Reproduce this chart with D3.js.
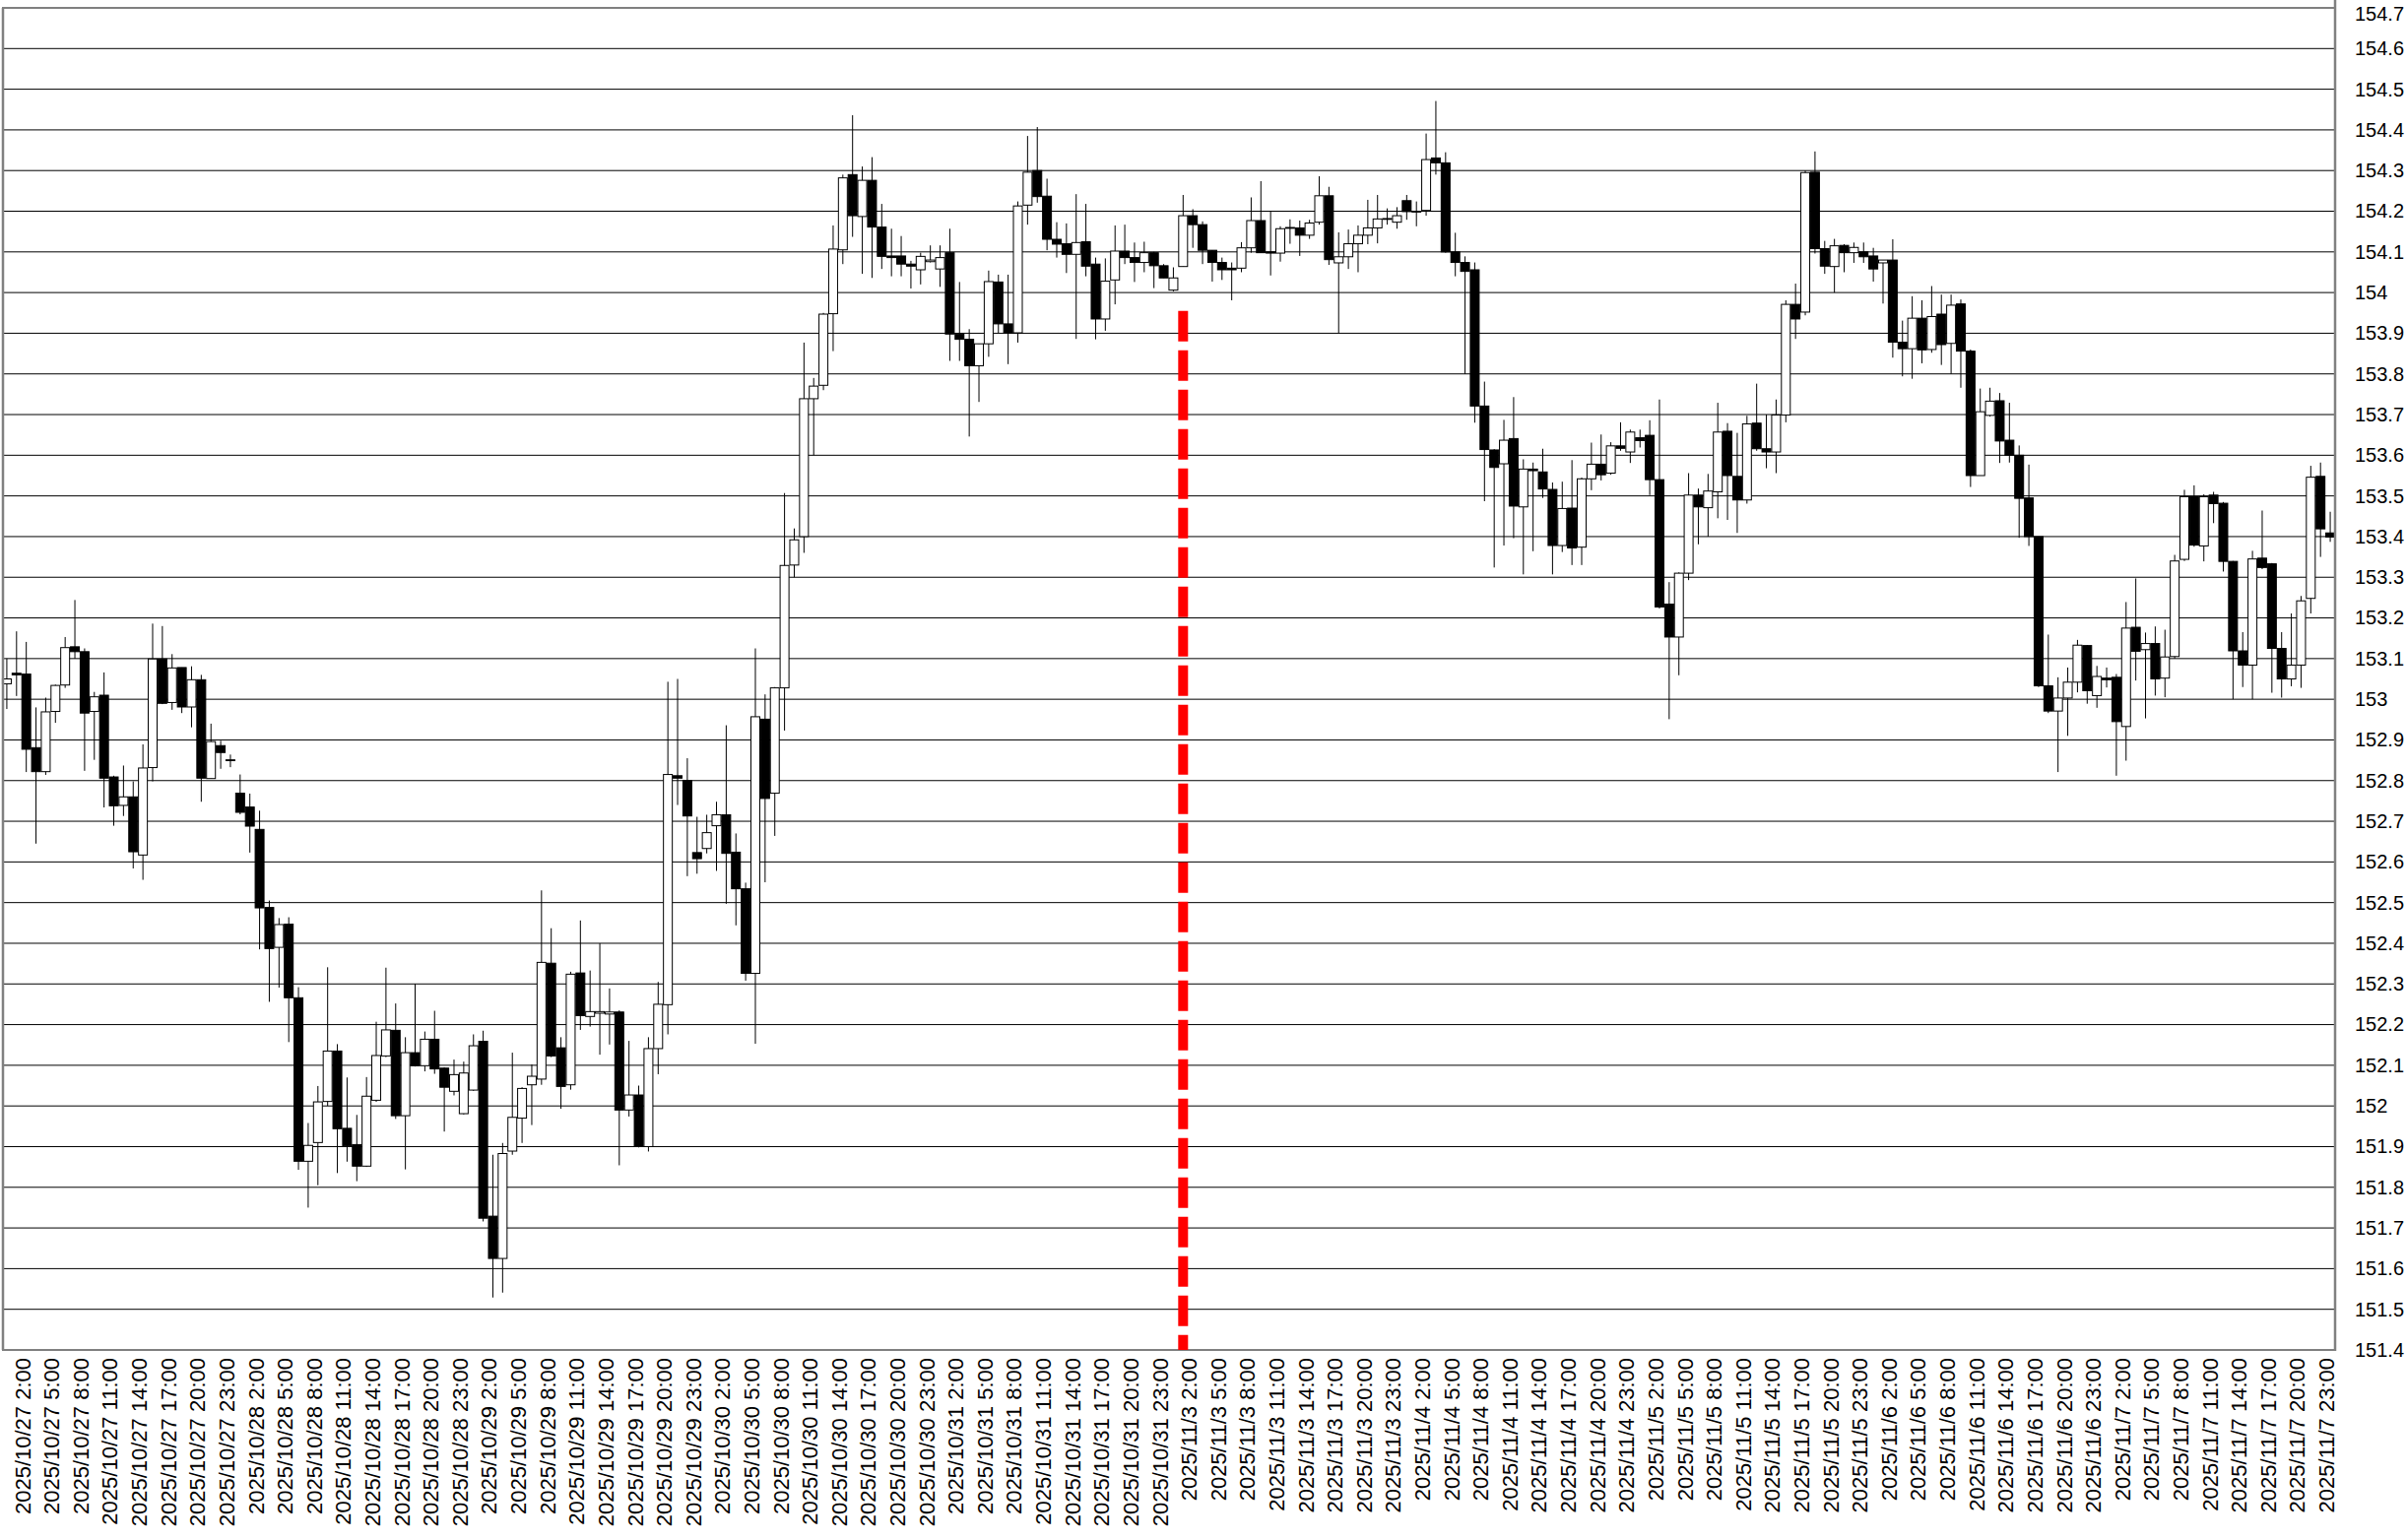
<!DOCTYPE html>
<html><head><meta charset="utf-8">
<script src="https://cdn.jsdelivr.net/npm/d3@7"></script>
<style>body{margin:0;background:#fff}</style>
</head><body>
<svg id="c" width="2443" height="1564"></svg>
<script>
const tradingDays = ["2025/10/27","2025/10/28","2025/10/29","2025/10/30","2025/10/31","2025/11/3","2025/11/4","2025/11/5","2025/11/6","2025/11/7"];
const hoursOfDay = [0,1,2,3,4,5,6,7,8,9,10,11,12,13,14,15,16,17,18,19,20,21,22,23];

const opens = [
153.038,153.064,153.062,152.881,152.822,152.970,153.035,153.129,153.117,152.970,
153.010,152.809,152.739,152.760,152.617,152.832,153.099,152.992,153.078,152.981,
153.048,152.805,152.886,152.851,152.769,152.735,152.680,152.488,152.390,152.447,
152.266,151.864,151.910,152.011,152.135,151.945,151.905,151.852,152.014,152.123,
152.186,151.976,152.131,152.099,152.164,152.093,152.036,151.981,152.039,152.159,
151.729,151.625,151.889,151.970,152.052,152.066,152.351,152.143,152.052,152.327,
152.220,152.228,152.226,152.231,151.990,152.027,151.900,152.141,152.249,152.812,
152.800,152.623,152.633,152.689,152.716,152.624,152.534,152.326,152.951,152.769,
153.028,153.330,153.400,153.739,153.772,153.948,154.105,154.290,154.187,154.276,
154.161,154.090,154.090,154.070,154.056,154.076,154.058,154.098,153.898,153.885,
153.820,153.874,154.026,153.923,153.901,154.215,154.300,154.237,154.131,154.120,
154.094,154.125,154.070,153.935,154.031,154.102,154.086,154.074,154.098,154.066,
154.006,154.064,154.189,154.167,154.104,154.074,154.060,154.060,154.110,154.177,
154.100,154.097,154.160,154.159,154.141,154.173,154.238,154.073,154.088,154.120,
154.141,154.159,154.180,154.173,154.226,154.200,154.202,154.331,154.319,154.100,
154.074,154.056,153.721,153.613,153.579,153.641,153.473,153.566,153.559,153.516,
153.378,153.470,153.374,153.542,153.578,153.556,153.623,153.608,153.643,153.649,
153.540,153.234,153.153,153.310,153.502,153.471,153.510,153.659,153.548,153.490,
153.679,153.616,153.608,153.699,153.971,153.952,154.296,154.108,154.064,154.116,
154.098,154.100,154.090,154.073,154.080,153.878,153.862,153.937,153.860,153.947,
153.875,153.972,153.856,153.550,153.698,153.734,153.637,153.600,153.495,153.400,
153.033,152.971,153.003,153.042,153.132,153.009,153.052,153.054,152.933,153.177,
153.122,153.137,153.052,153.105,153.344,153.498,153.377,153.502,153.482,153.339,
153.119,153.084,153.347,153.333,153.125,153.050,153.084,153.248,153.548,153.409];

const highs = [
153.100,153.167,153.141,152.980,153.004,153.036,153.153,153.244,153.125,153.018,
153.066,152.812,152.837,152.798,152.889,153.186,153.180,153.111,153.078,153.081,
153.060,152.940,152.898,152.864,152.815,152.768,152.726,152.505,152.462,152.464,
152.292,151.958,152.049,152.341,152.152,152.070,151.978,152.071,152.207,152.340,
152.252,152.169,152.300,152.183,152.234,152.095,152.114,152.109,152.176,152.185,
151.880,151.909,152.131,152.046,152.102,152.530,152.437,152.169,152.330,152.456,
152.333,152.400,152.289,152.235,152.160,152.050,152.169,152.305,153.043,153.050,
152.855,152.711,152.716,152.748,152.936,152.670,152.549,153.125,153.012,153.030,
153.507,153.420,153.877,153.790,153.950,154.165,154.290,154.436,154.310,154.333,
154.218,154.157,154.139,154.078,154.098,154.116,154.116,154.157,154.026,153.910,
153.874,154.054,154.044,154.044,154.224,154.385,154.407,154.280,154.173,154.170,
154.242,154.218,154.086,154.084,154.165,154.167,154.123,154.125,154.100,154.070,
154.062,154.240,154.205,154.175,154.104,154.086,154.074,154.124,154.234,154.274,
154.200,154.163,154.180,154.177,154.179,154.286,154.260,154.148,154.155,154.165,
154.228,154.240,154.207,154.210,154.240,154.224,154.391,154.471,154.345,154.147,
154.089,154.074,153.781,153.615,153.687,153.743,153.590,153.582,153.616,153.533,
153.535,153.588,153.545,153.631,153.651,153.632,153.681,153.663,153.663,153.686,
153.737,153.288,153.312,153.556,153.518,153.554,153.729,153.679,153.655,153.697,
153.776,153.700,153.737,153.981,154.022,154.300,154.347,154.127,154.132,154.119,
154.123,154.123,154.110,154.080,154.131,153.931,153.991,153.981,154.016,153.995,
153.995,153.983,153.860,153.764,153.766,153.753,153.729,153.624,153.577,153.400,
153.159,153.054,153.078,153.146,153.133,153.082,153.078,153.062,153.239,153.297,
153.164,153.179,153.171,153.355,153.515,153.526,153.504,153.510,153.485,153.340,
153.165,153.365,153.464,153.335,153.165,153.211,153.254,153.574,153.582,153.461];

const lows = [
152.976,153.008,152.821,152.645,152.814,152.942,153.028,153.100,152.824,152.851,
152.734,152.689,152.713,152.584,152.556,152.798,152.988,152.974,152.966,152.931,
152.748,152.805,152.829,152.833,152.717,152.623,152.385,152.256,152.291,152.157,
151.843,151.750,151.805,152.000,151.835,151.863,151.815,151.850,152.010,152.120,
151.968,151.844,152.097,152.085,152.079,151.937,152.026,151.979,152.037,151.716,
151.529,151.541,151.880,151.909,151.953,152.052,152.120,151.993,152.040,152.187,
152.195,152.126,152.151,151.854,151.974,151.898,151.888,152.078,152.176,152.740,
152.565,152.571,152.621,152.578,152.497,152.444,152.308,152.153,152.550,152.664,
152.923,153.300,153.360,153.600,153.760,153.856,154.070,154.137,154.046,154.036,
154.058,154.040,154.040,154.010,154.020,154.074,154.014,153.832,153.832,153.646,
153.731,153.842,153.901,153.824,153.877,154.167,154.221,154.104,154.086,154.048,
153.886,154.040,153.885,153.906,153.971,154.070,154.026,154.050,154.011,154.036,
154.003,154.064,154.110,154.070,154.027,154.031,153.981,154.050,154.098,154.098,
154.042,154.076,154.120,154.090,154.132,154.167,154.068,153.900,154.058,154.050,
154.119,154.121,154.167,154.157,154.179,154.163,154.189,154.290,154.098,154.040,
153.800,153.680,153.487,153.324,153.378,153.396,153.307,153.364,153.495,153.307,
153.362,153.330,153.330,153.514,153.538,153.552,153.611,153.581,153.619,153.502,
153.223,152.951,153.059,153.293,153.381,153.400,153.445,153.441,153.409,153.481,
153.611,153.568,153.556,153.681,153.886,153.944,154.096,154.046,154.000,154.050,
154.073,154.073,154.027,153.973,153.840,153.794,153.788,153.826,153.852,153.822,
153.800,153.766,153.522,153.550,153.695,153.581,153.582,153.397,153.377,153.030,
152.966,152.821,152.910,153.017,152.989,152.979,153.029,152.812,152.849,153.046,
152.953,153.009,153.005,153.100,153.340,153.375,153.339,153.433,153.314,153.000,
153.030,153.000,153.320,153.016,153.004,153.032,153.028,153.211,153.350,153.387];

const closes = [
153.050,153.060,152.877,152.822,152.969,153.034,153.127,153.117,152.966,153.006,
152.806,152.738,152.760,152.625,152.831,153.099,152.990,153.077,152.981,153.048,
152.806,152.896,152.869,152.849,152.722,152.688,152.487,152.387,152.446,152.266,
151.864,151.903,152.010,152.135,151.944,151.902,151.852,152.024,152.124,152.187,
151.976,152.131,152.099,152.164,152.091,152.046,152.077,152.081,152.148,151.724,
151.625,151.883,151.972,152.043,152.073,152.353,152.123,152.048,152.324,152.222,
152.232,152.232,152.231,151.990,152.027,151.900,152.141,152.250,152.815,152.806,
152.713,152.608,152.672,152.716,152.621,152.534,152.326,152.957,152.756,153.028,
153.329,153.392,153.739,153.770,153.947,154.107,154.282,154.189,154.276,154.161,
154.089,154.086,154.070,154.065,154.089,154.080,154.086,153.898,153.885,153.820,
153.874,154.027,153.923,153.901,154.213,154.296,154.236,154.131,154.119,154.094,
154.123,154.065,153.935,154.028,154.102,154.086,154.074,154.098,154.066,154.036,
154.036,154.189,154.167,154.104,154.074,154.056,154.056,154.110,154.177,154.098,
154.097,154.157,154.158,154.141,154.171,154.238,154.081,154.088,154.120,154.141,
154.159,154.181,154.182,154.189,154.199,154.198,154.327,154.319,154.100,154.074,
154.052,153.721,153.614,153.570,153.637,153.475,153.566,153.562,153.517,153.378,
153.469,153.372,153.542,153.578,153.552,153.623,153.617,153.657,153.636,153.540,
153.227,153.153,153.310,153.502,153.473,153.512,153.657,153.550,153.490,153.677,
153.616,153.608,153.699,153.971,153.935,154.295,154.108,154.065,154.115,154.098,
154.111,154.088,154.058,154.080,153.878,153.862,153.937,153.859,153.941,153.872,
153.969,153.856,153.550,153.707,153.733,153.635,153.600,153.494,153.400,153.033,
152.971,153.003,153.042,153.133,153.021,153.056,153.048,152.945,153.175,153.118,
153.137,153.050,153.104,153.340,153.498,153.379,153.498,153.481,153.339,153.119,
153.084,153.345,153.324,153.125,153.050,153.084,153.242,153.546,153.419,153.399];

const yTicks = [151.4,151.5,151.6,151.7,151.8,151.9,152.0,152.1,152.2,152.3,152.4,152.5,152.6,152.7,152.8,152.9,
  153.0,153.1,153.2,153.3,153.4,153.5,153.6,153.7,153.8,153.9,154.0,154.1,154.2,154.3,154.4,154.5,154.6,154.7];
const markerTime = "2025/11/3 1:00";
const markerTop = 153.955;

const categories = tradingDays.flatMap(d => hoursOfDay.map(h => `${d} ${h}:00`));
const tickLabels = categories.filter(c => [2,5,8,11,14,17,20,23].includes(+c.split(" ")[1].split(":")[0]));

const L = 2, R = 2371, T = 8, B = 1371;
const FONT = "'Liberation Sans', Arial, sans-serif";
const svg = d3.select("#c");
svg.append("rect").attr("width",2443).attr("height",1564).attr("fill","#fff");

const x = d3.scaleBand().domain(categories).range([L, R]).padding(0);
const y = d3.scaleLinear().domain([151.4, 154.7]).range([B, T]);
const bw = x.bandwidth();
const cx = c => x(c) + bw / 2;

// gridlines
svg.append("g").selectAll("line").data(yTicks).join("line")
  .attr("x1", L).attr("x2", R)
  .attr("y1", d => y(d)).attr("y2", d => y(d))
  .attr("stroke", "#000").attr("stroke-width", 1);

// red dashed marker
svg.append("line")
  .attr("x1", cx(markerTime)).attr("x2", cx(markerTime))
  .attr("y1", y(markerTop)).attr("y2", B)
  .attr("stroke", "#ff0000").attr("stroke-width", 10)
  .attr("stroke-dasharray", "31,9");

// candles
const candles = categories.map((c, i) => ({c, o: opens[i], h: highs[i], l: lows[i], cl: closes[i]}));
const cg = svg.append("g");
cg.selectAll("line.wick").data(candles).join("line").attr("class","wick")
  .attr("x1", d => cx(d.c)).attr("x2", d => cx(d.c))
  .attr("y1", d => y(d.h)).attr("y2", d => y(d.l))
  .attr("stroke", "#000").attr("stroke-width", 1);
cg.selectAll("rect.body").data(candles).join("rect").attr("class","body")
  .attr("x", d => cx(d.c) - 4.5).attr("width", 9)
  .attr("y", d => y(Math.max(d.o, d.cl)))
  .attr("height", d => Math.max(Math.abs(y(d.o) - y(d.cl)), 0.01))
  .attr("fill", d => d.cl < d.o ? "#000" : "#fff")
  .attr("stroke", "#000").attr("stroke-width", 1);

// borders
svg.append("line").attr("x1", L+1).attr("x2", L+1).attr("y1", T).attr("y2", B)
  .attr("stroke", "#808080").attr("stroke-width", 2.5);
svg.append("line").attr("x1", R).attr("x2", R).attr("y1", 0).attr("y2", B+1)
  .attr("stroke", "#808080").attr("stroke-width", 2.5);

// y axis
const ya = svg.append("g").attr("transform", `translate(${R},0)`)
  .call(d3.axisRight(y).tickValues(yTicks).tickSize(0).tickPadding(20)
    .tickFormat(v => String(+v.toFixed(1))));
ya.select(".domain").remove();
ya.selectAll("text").attr("font-size", 20).attr("font-family", FONT).attr("fill", "#000")
  .attr("dy", d => d === 154.7 ? "0.62em" : "0.32em");

// x axis
const xa = svg.append("g").attr("transform", `translate(0,${B})`)
  .call(d3.axisBottom(x).tickValues(tickLabels).tickSize(0));
xa.select(".domain").remove();
xa.selectAll("text")
  .attr("transform", "rotate(-90)")
  .attr("text-anchor", "end")
  .attr("x", -8).attr("y", 0).attr("dy", "0.18em")
  .attr("font-size", 22).attr("font-family", FONT).attr("fill", "#000");
</script>
</body></html>
